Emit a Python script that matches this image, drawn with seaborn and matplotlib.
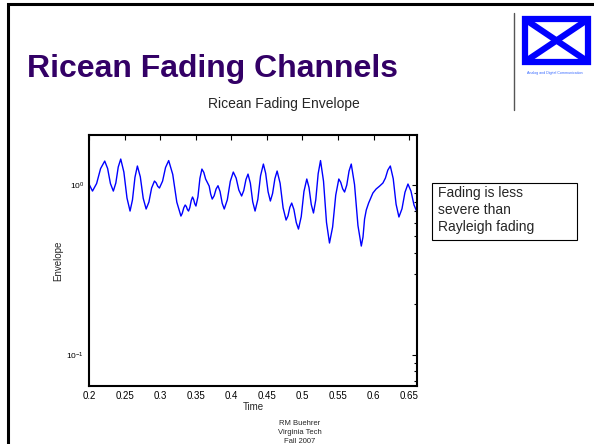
import numpy as np
import pandas as pd
import matplotlib
matplotlib.use("Agg")
import matplotlib.pyplot as plt
import seaborn as sns
from matplotlib.patches import Rectangle
from matplotlib.lines import Line2D
from matplotlib.ticker import LogLocator, LogFormatterSciNotation, NullFormatter

# Ricean fading envelope trace (time in s, envelope in dB)
time = [
    0.2000, 0.2049, 0.2107, 0.2163, 0.2221, 0.2262, 0.2301, 0.2342, 0.2377, 0.2411,
    0.2446, 0.2490, 0.2534, 0.2577, 0.2611, 0.2646, 0.2680, 0.2721, 0.2762, 0.2803,
    0.2842, 0.2880, 0.2920, 0.2944, 0.2966, 0.2990, 0.3034, 0.3076, 0.3120, 0.3177,
    0.3234, 0.3292, 0.3311, 0.3332, 0.3352, 0.3368, 0.3383, 0.3399, 0.3417, 0.3437,
    0.3455, 0.3470, 0.3487, 0.3503, 0.3531, 0.3559, 0.3587, 0.3614, 0.3639, 0.3666,
    0.3689, 0.3710, 0.3732, 0.3759, 0.3786, 0.3813, 0.3842, 0.3872, 0.3901, 0.3944,
    0.3986, 0.4028, 0.4068, 0.4106, 0.4145, 0.4175, 0.4206, 0.4235, 0.4268, 0.4301,
    0.4334, 0.4373, 0.4411, 0.4451, 0.4483, 0.4517, 0.4549, 0.4580, 0.4613, 0.4644,
    0.4686, 0.4728, 0.4770, 0.4797, 0.4823, 0.4849, 0.4880, 0.4913, 0.4944, 0.4983,
    0.5021, 0.5061, 0.5092, 0.5124, 0.5155, 0.5187, 0.5221, 0.5254, 0.5296, 0.5338,
    0.5380, 0.5424, 0.5468, 0.5511, 0.5538, 0.5565, 0.5592, 0.5623, 0.5655, 0.5686,
    0.5732, 0.5780, 0.5827, 0.5851, 0.5873, 0.5897, 0.5930, 0.5990, 0.6035, 0.6085,
    0.6131, 0.6166, 0.6200, 0.6235, 0.6276, 0.6316, 0.6356, 0.6399, 0.6441, 0.6483,
    0.6525, 0.6568, 0.6610,
]
envelope_db = [
    0.12, -0.71, 0.18, 1.94, 2.82, 1.94, 0.18, -0.71, 0.24, 2.12,
    3.06, 1.53, -1.53, -3.06, -1.74, 0.91, 2.24, 0.97, -1.56, -2.82,
    -2.00, -0.35, 0.47, 0.26, -0.15, -0.35, 0.46, 2.07, 2.88, 1.25,
    -2.01, -3.65, -3.32, -2.68, -2.35, -2.53, -2.88, -3.06, -2.65, -1.82,
    -1.41, -1.68, -2.21, -2.47, -1.38, 0.79, 1.88, 1.48, 0.71, 0.27,
    -0.12, -1.06, -1.65, -1.26, -0.47, -0.08, -0.76, -2.14, -2.82, -1.74,
    0.44, 1.53, 0.82, -0.59, -1.29, -0.65, 0.65, 1.29, 0.21, -1.97,
    -3.06, -1.68, 1.09, 2.47, 1.38, -0.79, -1.88, -1.00, 0.76, 1.65,
    0.21, -2.68, -4.12, -3.62, -2.62, -2.12, -2.88, -4.41, -5.18, -3.71,
    -0.76, 0.71, -0.29, -2.29, -3.29, -1.75, 1.34, 2.88, 0.46, -4.40,
    -6.82, -4.94, -1.18, 0.71, 0.32, -0.44, -0.82, 0.00, 1.65, 2.47,
    0.06, -4.76, -7.18, -6.12, -4.00, -2.94, -2.12, -0.94, -0.47, -0.12,
    0.24, 0.82, 1.76, 2.24, 0.74, -2.26, -3.76, -2.79, -0.85, 0.12,
    -0.71, -2.35, -3.18,
]
x_ticks = [0.2, 0.25, 0.3, 0.35, 0.4, 0.45, 0.5, 0.55, 0.6, 0.65]

df = pd.DataFrame({"Time": time, "Envelope": 10 ** (np.array(envelope_db) / 20)})

sns.set_style("white")
plt.rcParams["font.family"] = ["Liberation Sans", "DejaVu Sans"]
plt.rcParams["mathtext.fontset"] = "custom"
plt.rcParams["mathtext.rm"] = "Liberation Sans"
plt.rcParams["mathtext.it"] = "Liberation Sans:italic"

W, H = 594, 444
fig = plt.figure(figsize=(W / 100, H / 100), dpi=100)
fig.patch.set_facecolor("white")


def fx(px):
    return px / W


def fy(py):
    return 1 - py / H


# slide border (only top and left edges are inside the picture)
fig.add_artist(Rectangle((fx(8), fy(450)), fx(600), 446 / H, transform=fig.transFigure,
                         fill=False, edgecolor="black", lw=2.2))

# slide title
fig.text(fx(27), fy(77), "Ricean Fading Channels", fontsize=23, weight="bold",
         color="#330066", va="baseline")

# logo
fig.add_artist(Line2D([fx(514), fx(514)], [fy(13), fy(110)], color="#555555", lw=1,
                      transform=fig.transFigure))
fig.add_artist(Rectangle((fx(525), fy(62)), fx(63), 43 / H, transform=fig.transFigure,
                         fill=False, edgecolor="#0000ff", lw=4.5))
fig.add_artist(Line2D([fx(526), fx(587)], [fy(20), fy(61)], color="#0000ff", lw=4.5,
                      transform=fig.transFigure))
fig.add_artist(Line2D([fx(526), fx(587)], [fy(61), fy(20)], color="#0000ff", lw=4.5,
                      transform=fig.transFigure))
fig.text(fx(555), fy(73), "Analog and Digital Communication", fontsize=2.6,
         color="#3366ff", ha="center", va="center")

# chart
ax = fig.add_axes([fx(89), fy(386), fx(328), 251 / H])
sns.lineplot(data=df, x="Time", y="Envelope", color="#0000ff", lw=1.0, ax=ax)
ax.set_yscale("log")
ax.set_xlim(0.2, 0.661)
ax.set_ylim(0.0657, 1.97)
ax.set_xticks(x_ticks)
ax.set_xticklabels([f"{t:g}" for t in x_ticks], fontsize=7)
ax.yaxis.set_major_locator(LogLocator(base=10))
ax.yaxis.set_minor_locator(LogLocator(base=10, subs=np.arange(2, 10)))
ax.yaxis.set_major_formatter(LogFormatterSciNotation())
ax.yaxis.set_minor_formatter(NullFormatter())
ax.tick_params(axis="both", which="both", direction="in", top=True, right=True,
               labelsize=6, colors="black")
ax.tick_params(axis="both", which="major", length=3.5, width=0.8)
ax.tick_params(axis="y", which="minor", length=2.2, width=0.8)
ax.tick_params(axis="x", labelsize=7)
for s in ax.spines.values():
    s.set_color("black")
    s.set_linewidth(1.5)
ax.set_xlabel("Time", fontsize=7, labelpad=1)
ax.set_ylabel("Envelope", fontsize=7, labelpad=2)

fig.text(fx(284), fy(108), "Ricean Fading Envelope", fontsize=10, ha="center",
         va="baseline")

# annotation box
fig.add_artist(Rectangle((fx(432), fy(240)), fx(145), 57 / H, transform=fig.transFigure,
                         fill=False, edgecolor="black", lw=0.8))
fig.text(fx(438), fy(186), "Fading is less\nsevere than\nRayleigh fading", fontsize=10,
         va="top", ha="left", linespacing=1.28)

# footer
fig.text(fx(300), fy(423), "RM Buehrer", fontsize=5.5, ha="center", va="center")
fig.text(fx(300), fy(432), "Virginia Tech", fontsize=5.5, ha="center", va="center")
fig.text(fx(300), fy(441), "Fall 2007", fontsize=5.5, ha="center", va="center")

fig.savefig("out.png", dpi=100)
